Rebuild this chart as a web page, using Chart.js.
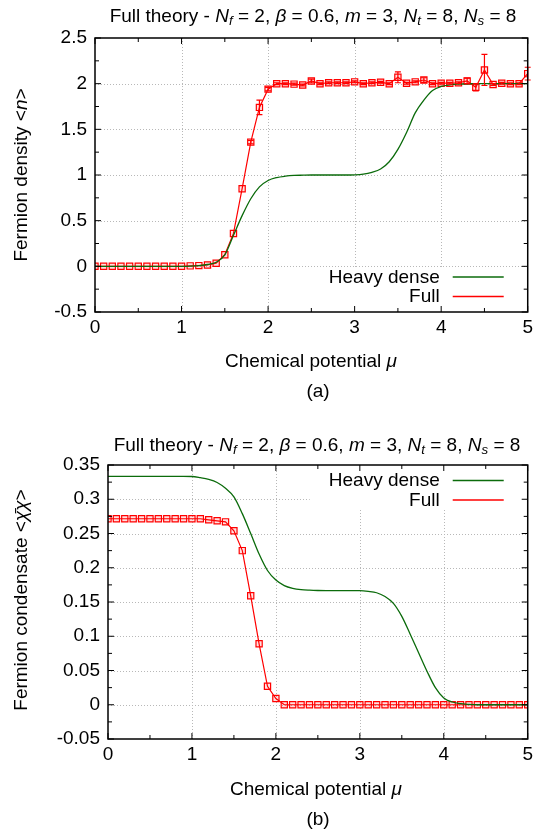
<!DOCTYPE html>
<html>
<head>
<meta charset="utf-8">
<script src="https://cdn.jsdelivr.net/npm/chart.js@4.4.1/dist/chart.umd.min.js"></script>
<style>
  html, body { margin: 0; padding: 0; background: #fff; }
  #wrap { position: relative; width: 537px; height: 832px; overflow: hidden; background: #fff;
          font-family: "Liberation Sans", Arial, Helvetica, sans-serif; color: #000; }
  canvas { position: absolute; left: 0; }
  .t { position: absolute; white-space: nowrap; font-size: 19px; line-height: 1; transform: translate(-50%, -50%); }
  .rot { transform: translate(-50%, -50%) rotate(-90deg); }
  sub { font-size: 70%; vertical-align: -0.3em; line-height: 0; }
</style>
</head>
<body>
<div id="wrap">
  <canvas id="chartA" width="537" height="420" style="top:0px;width:537px;height:420px"></canvas>
  <canvas id="chartB" width="537" height="412" style="top:420px;width:537px;height:412px"></canvas>

  <div class="t" style="left:313px;top:15px">Full theory - <i>N<sub>f</sub></i> = 2, <i>β</i> = 0.6, <i>m</i> = 3, <i>N<sub>t</sub></i> = 8, <i>N<sub>s</sub></i> = 8</div>
  <div class="t rot" style="left:20px;top:175px">Fermion density &lt;<i>n</i>&gt;</div>
  <div class="t" style="left:311px;top:360px">Chemical potential <i>μ</i></div>
  <div class="t" style="left:318px;top:390px">(a)</div>

  <div class="t" style="left:317px;top:444px">Full theory - <i>N<sub>f</sub></i> = 2, <i>β</i> = 0.6, <i>m</i> = 3, <i>N<sub>t</sub></i> = 8, <i>N<sub>s</sub></i> = 8</div>
  <div class="t rot" style="left:20px;top:600px">Fermion condensate &lt;<i>χ̄χ</i>&gt;</div>
  <div class="t" style="left:316px;top:788px">Chemical potential <i>μ</i></div>
  <div class="t" style="left:318px;top:818px">(b)</div>
</div>
<script>
// ---------------- data ----------------
const mu = [0.0,0.1,0.2,0.3,0.4,0.5,0.6,0.7,0.8,0.9,1.0,1.1,1.2,1.3,1.4,1.5,1.6,1.7,1.8,1.9,2.0,
            2.1,2.2,2.3,2.4,2.5,2.6,2.7,2.8,2.9,3.0,3.1,3.2,3.3,3.4,3.5,3.6,3.7,3.8,3.9,4.0,
            4.1,4.2,4.3,4.4,4.5,4.6,4.7,4.8,4.9,5.0];

// (a) fermion density
const densityFull = [0,0,0,0,0,0,0,0,0,0,0,0.005,0.008,0.015,0.034,0.127,0.36,0.85,1.36,1.74,1.94,
                     2.0,2.0,1.995,1.985,2.03,2.0,2.01,2.01,2.01,2.02,2.0,2.01,2.015,2.0,2.07,2.005,2.02,2.04,2.0,2.005,
                     2.005,2.01,2.03,1.96,2.15,1.99,2.005,2.0,2.0,2.11];
const densityFullErr = [0,0,0,0,0,0,0,0,0,0,0,0,0,0,0,0,0,0,0.02,0.08,0.02,
                        0.01,0.01,0.01,0.01,0.02,0.01,0.01,0.01,0.01,0.01,0.01,0.01,0.01,0.01,0.06,0.01,0.01,0.025,0.01,0.01,
                        0.01,0.01,0.03,0.04,0.17,0.01,0.01,0.01,0.01,0.07];
const densityHeavy = [0,0,0,0,0,0,0,0,0,0,0,0.002,0.008,0.02,0.045,0.125,0.34,0.555,0.74,0.87,0.94,
                      0.972,0.987,0.995,0.998,1.0,1.0,1.0,1.0,1.0,1.002,1.01,1.03,1.065,1.145,1.28,1.465,1.68,1.82,1.925,1.97,
                      1.987,1.995,1.999,2.0,2.0,2.0,2.0,2.0,2.0,2.0];

// (b) fermion condensate
const condFull = [0.2715,0.2715,0.2715,0.2715,0.2715,0.2715,0.2715,0.2715,0.2715,0.2715,0.2715,0.2715,0.270,0.2685,0.267,0.254,0.225,0.159,0.089,0.027,0.009,
                  0,0,0,0,0,0,0,0,0,0,0,0,0,0,0,0,0,0,0,0,
                  0,0,0,0,0,0,0,0,0,0];
const condHeavy = [0.3333,0.3333,0.3333,0.3333,0.3333,0.3333,0.3333,0.3333,0.3333,0.3333,0.3332,0.3315,0.329,0.3245,0.316,0.3035,0.279,0.250,0.220,0.196,0.182,
                   0.174,0.170,0.168,0.1672,0.1668,0.1667,0.1667,0.1667,0.1667,0.1666,0.1655,0.1635,0.158,0.148,0.129,0.103,0.076,0.049,0.025,0.010,
                   0.004,0.0015,0.0005,0,0,0,0,0,0,0];

// ticks
const xTicks = [0,1,2,3,4,5];
const xTickLabels = ['0','1','2','3','4','5'];
const xMinorTicks = [0.5,1.5,2.5,3.5,4.5];
const yTicksA = [-0.5,0,0.5,1,1.5,2,2.5];
const yTickLabelsA = ['-0.5','0','0.5','1','1.5','2','2.5'];
const yMinorTicksA = [-0.25,0.25,0.75,1.25,1.75,2.25];
const yTicksB = [-0.05,0,0.05,0.1,0.15,0.2,0.25,0.3,0.35];
const yTickLabelsB = ['-0.05','0','0.05','0.1','0.15','0.2','0.25','0.3','0.35'];
const yMinorTicksB = [-0.025,0.025,0.075,0.125,0.175,0.225,0.275,0.325];

const seriesNames = ['Heavy dense', 'Full'];
const GREEN = '#0b6b0b';
const RED = '#ff0000';
const FONT = '"Liberation Sans", Arial, Helvetica, sans-serif';

// ---------------- gnuplot-like decorations ----------------
const gnuPlugin = {
  id: 'gnu',
  beforeDatasetsDraw(chart, args, o) {
    const {ctx, chartArea: a, scales: {x, y}} = chart;
    ctx.save();
    ctx.strokeStyle = '#b8b8b8';
    ctx.lineWidth = 1;
    ctx.setLineDash([1, 2]);
    o.xMajor.forEach(v => {
      if (v <= x.min || v >= x.max) return;
      const p = Math.round(x.getPixelForValue(v)) + 0.5;
      ctx.beginPath(); ctx.moveTo(p, a.top); ctx.lineTo(p, a.bottom); ctx.stroke();
    });
    o.yMajor.forEach(v => {
      if (v <= y.min + 1e-9 || v >= y.max - 1e-9) return;
      const p = Math.round(y.getPixelForValue(v)) + 0.5;
      ctx.beginPath(); ctx.moveTo(a.left, p); ctx.lineTo(a.right, p); ctx.stroke();
    });
    ctx.setLineDash([]);
    // opaque key box
    const bw = 218, bh = 45;
    const by = o.keyPos === 'bottom' ? a.bottom - bh : a.top;
    ctx.fillStyle = '#fff';
    ctx.fillRect(a.right - bw, by, bw, bh);
    ctx.restore();
  },
  afterDatasetsDraw(chart, args, o) {
    const {ctx, chartArea: a, scales: {x, y}} = chart;
    ctx.save();
    // error bars
    chart.data.datasets.forEach((ds, i) => {
      if (!ds.errors) return;
      const meta = chart.getDatasetMeta(i);
      ctx.strokeStyle = ds.borderColor;
      ctx.lineWidth = 1.2;
      meta.data.forEach((el, j) => {
        const e = ds.errors[j];
        if (!e) return;
        const v = ds.data[j].y;
        const y1 = y.getPixelForValue(v - e), y2 = y.getPixelForValue(v + e);
        ctx.beginPath();
        ctx.moveTo(el.x, y1); ctx.lineTo(el.x, y2);
        ctx.moveTo(el.x - 3, y1); ctx.lineTo(el.x + 3, y1);
        ctx.moveTo(el.x - 3, y2); ctx.lineTo(el.x + 3, y2);
        ctx.stroke();
      });
    });
    // frame
    ctx.strokeStyle = '#000';
    ctx.lineWidth = 1.5;
    ctx.strokeRect(a.left, a.top, a.right - a.left, a.bottom - a.top);
    // inward ticks (mirrored)
    ctx.lineWidth = 1;
    const tick = (vals, len) => {
      vals.forEach(v => {
        const p = x.getPixelForValue(v);
        ctx.beginPath();
        ctx.moveTo(p, a.bottom); ctx.lineTo(p, a.bottom - len);
        ctx.moveTo(p, a.top); ctx.lineTo(p, a.top + len);
        ctx.stroke();
      });
    };
    const ytick = (vals, len) => {
      vals.forEach(v => {
        const p = y.getPixelForValue(v);
        ctx.beginPath();
        ctx.moveTo(a.left, p); ctx.lineTo(a.left + len, p);
        ctx.moveTo(a.right, p); ctx.lineTo(a.right - len, p);
        ctx.stroke();
      });
    };
    tick(o.xMajor, 6); tick(o.xMinor, 4);
    ytick(o.yMajor, 6); ytick(o.yMinor, 4);
    // key
    ctx.font = '19px ' + FONT;
    ctx.fillStyle = '#000';
    ctx.textAlign = 'right';
    ctx.textBaseline = 'middle';
    const rows = o.keyPos === 'bottom' ? [a.bottom - 35.5, a.bottom - 16] : [a.top + 15, a.top + 34.5];
    chart.data.datasets.forEach((ds, i) => {
      const ry = rows[i];
      ctx.fillText(ds.label, a.right - 88, ry + 1);
      ctx.strokeStyle = ds.borderColor;
      ctx.lineWidth = 1.3;
      ctx.beginPath(); ctx.moveTo(a.right - 75, ry + 0.5); ctx.lineTo(a.right - 24, ry + 0.5); ctx.stroke();
    });
    ctx.restore();
  }
};

function pts(xs, ys) { return xs.map((v, i) => ({x: v, y: ys[i]})); }

function makeChart(id, cfg) {
  return new Chart(document.getElementById(id), {
    type: 'line',
    data: {
      datasets: [
        { label: seriesNames[0], data: pts(mu, cfg.heavy), borderColor: GREEN, borderWidth: 1.3,
          pointRadius: 0, cubicInterpolationMode: 'monotone', fill: false },
        { label: seriesNames[1], data: pts(mu, cfg.full), errors: cfg.err, borderColor: RED, borderWidth: 1.2,
          pointStyle: 'rect', pointRadius: 4.4, pointBorderWidth: 1.2, pointBorderColor: RED,
          pointBackgroundColor: 'rgba(255,0,0,0.12)', tension: 0, fill: false }
      ]
    },
    options: {
      responsive: false, animation: false, devicePixelRatio: 1,
      layout: { padding: cfg.padding },
      plugins: {
        legend: { display: false }, tooltip: { enabled: false }, title: { display: false },
        gnu: { xMajor: xTicks, xMinor: xMinorTicks, yMajor: cfg.yTicks, yMinor: cfg.yMinor, keyPos: cfg.keyPos }
      },
      scales: {
        x: { type: 'linear', min: 0, max: 5,
             afterBuildTicks: s => { s.ticks = xTicks.map(v => ({value: v})); },
             afterFit: s => { s.height = 40; },
             grid: { display: false, drawTicks: false }, border: { display: false },
             ticks: { callback: (v, i) => xTickLabels[i], color: '#000', padding: 4, maxRotation: 0, autoSkip: false,
                      font: { family: FONT, size: 19 } } },
        y: { type: 'linear', min: cfg.yMin, max: cfg.yMax,
             afterBuildTicks: s => { s.ticks = cfg.yTicks.map(v => ({value: v})); },
             afterFit: s => { s.width = cfg.yWidth; },
             grid: { display: false, drawTicks: false }, border: { display: false },
             ticks: { callback: (v, i) => cfg.yLabels[i], color: '#000', padding: 8, autoSkip: false,
                      font: { family: FONT, size: 19 } } }
      }
    },
    plugins: [gnuPlugin]
  });
}

makeChart('chartA', {
  heavy: densityHeavy, full: densityFull, err: densityFullErr,
  yMin: -0.5, yMax: 2.5, yTicks: yTicksA, yLabels: yTickLabelsA, yMinor: yMinorTicksA,
  yWidth: 95, padding: { left: 0, right: 6, top: 38, bottom: 68 }, keyPos: 'bottom'
});
makeChart('chartB', {
  heavy: condHeavy, full: condFull, err: null,
  yMin: -0.05, yMax: 0.35, yTicks: yTicksB, yLabels: yTickLabelsB, yMinor: yMinorTicksB,
  yWidth: 108, padding: { left: 0, right: 6, top: 45, bottom: 53 }, keyPos: 'top'
});
</script>
</body>
</html>
